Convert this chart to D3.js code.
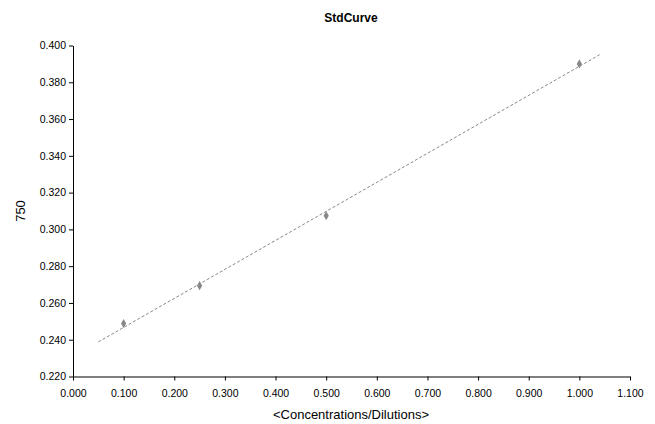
<!DOCTYPE html>
<html><head><meta charset="utf-8">
<script src="https://cdn.jsdelivr.net/npm/d3@7"></script>
<style>body{margin:0;background:#fff}svg{display:block}text{font-family:"Liberation Sans",Arial,sans-serif}</style>
</head><body><svg id="c" width="655" height="424"></svg>
<script>
const xs = [0.1, 0.25, 0.5, 1.0];
const ys = [0.2488, 0.2694, 0.3074, 0.390];
const trendX = [0.05, 1.04];
const trendY = [0.2388, 0.395];
const xTicks = [0,0.1,0.2,0.3,0.4,0.5,0.6,0.7,0.8,0.9,1.0,1.1];
const yTicks = [0.22,0.24,0.26,0.28,0.30,0.32,0.34,0.36,0.38,0.40];

const svg = d3.select("#c");
const x = d3.scaleLinear().domain([0,1.1]).range([73,630]);
const y = d3.scaleLinear().domain([0.22,0.40]).range([376.5,45.5]);
const fmt = d3.format(".3f");

const gx = svg.append("g").attr("transform","translate(0,376.5)")
  .call(d3.axisBottom(x).tickValues(xTicks).tickFormat(fmt).tickSize(4).tickSizeOuter(0));
gx.select(".domain").attr("stroke","#555").attr("stroke-width",1.5);
gx.selectAll("text").attr("font-size",10.5).attr("fill","#000").attr("dy","1.25em");
const gy = svg.append("g").attr("transform","translate(73,0)")
  .call(d3.axisLeft(y).tickValues(yTicks).tickFormat(fmt).tickSize(4).tickSizeOuter(0));
gy.selectAll("text").attr("font-size",10.5).attr("fill","#000");
svg.selectAll(".tick line").attr("stroke","#000");

svg.append("line")
  .attr("x1",x(trendX[0])).attr("y1",y(trendY[0]))
  .attr("x2",x(trendX[1])).attr("y2",y(trendY[1]))
  .attr("stroke","#888").attr("stroke-width",1).attr("stroke-dasharray","3,2");

svg.selectAll("path.pt").data(xs).join("path").attr("class","pt")
  .attr("d",d3.symbol(d3.symbolDiamond,24))
  .attr("transform",(d,i)=>`translate(${x(d)},${y(ys[i])})`)
  .attr("fill","#888");

svg.append("text").attr("x",351).attr("y",22).attr("text-anchor","middle")
  .attr("font-size",12).attr("font-weight","bold").text("StdCurve");
svg.append("text").attr("x",351).attr("y",419).attr("text-anchor","middle")
  .attr("font-size",13).text("<Concentrations/Dilutions>");
svg.append("text").attr("transform","translate(25,211) rotate(-90)").attr("text-anchor","middle")
  .attr("font-size",13).text("750");
</script></body></html>
